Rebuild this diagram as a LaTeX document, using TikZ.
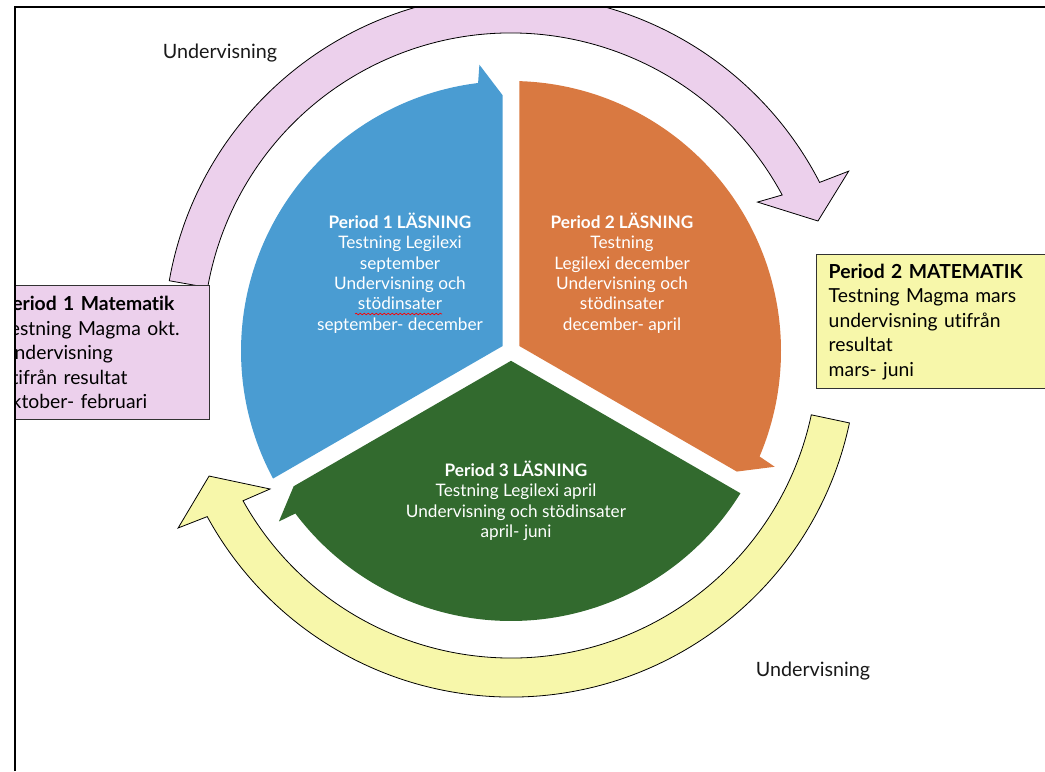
\documentclass[tikz,border=0pt]{standalone}
\usepackage{fontspec}
\setmainfont{Lato}[Ligatures=NoCommon]
\usetikzlibrary{decorations.pathmorphing}
\definecolor{segblue}{RGB}{74,156,210}
\definecolor{segorange}{RGB}{217,121,65}
\definecolor{seggreen}{RGB}{50,106,46}
\definecolor{arcpink}{RGB}{236,208,236}
\definecolor{arcyellow}{RGB}{247,247,170}
\definecolor{boxline}{RGB}{50,50,50}
\definecolor{labeltext}{RGB}{25,25,25}
\begin{document}
\begin{tikzpicture}[x=0.75pt,y=0.75pt,
  bandarrow/.style={draw=black, line width=0.6pt, line join=miter},
  segtext/.style={text=white, align=center, inner sep=0pt,
    font=\fontsize{12.9pt}{15.3pt}\selectfont},
  mathbox/.style={draw=boxline, line width=1.1pt, align=left, inner xsep=9pt,
    inner ysep=0pt, text=black, font=\fontsize{14.5pt}{18.4pt}\selectfont,
    minimum height=100.5pt, anchor=north west},
  cyclelabel/.style={text=labeltext, inner sep=0pt, font=\fontsize{14.8pt}{17pt}\selectfont}
]
\useasboundingbox (0,0) rectangle (1045,771);
\begin{scope}
\clip (15,0) rectangle (1045,764);
% pink cycle arrow (top)
\begin{scope}[shift={(511,430)}]
\path[bandarrow, fill=arcpink] (170:347) arc[start angle=170, end angle=27.2, radius=347]
  -- (26.7:378) -- (21.35:329.6) -- (29.4:283) -- (28.3:308)
  arc[start angle=28.3, end angle=170, radius=308] -- cycle;
\end{scope}
% yellow cycle arrow (bottom)
\begin{scope}[shift={(511,420)}]
\path[bandarrow, fill=arcyellow] (-12:307) -- (-12:346)
  arc[start angle=-12, end angle=-151.4, radius=346]
  -- (-152:377) -- (-157.5:326.8) -- (-150.2:277.7) -- (-150.8:307)
  arc[start angle=-150.8, end angle=-12, radius=307] -- cycle;
% segments
\fill[segblue] (150:9.8) -- (208.2:270) arc[start angle=208.2, end angle=97, radius=270]
  -- (96.3:288) -- (91.9:256) -- cycle;
\fill[segorange] (30:9.8) -- (88.2:270) arc[start angle=88.2, end angle=-23, radius=270]
  -- (-23.7:288) -- (-28.1:256) -- cycle;
\fill[seggreen] (270:9.8) -- (328.2:270) arc[start angle=328.2, end angle=217, radius=270]
  -- (216.3:288) -- (211.9:256) -- cycle;
\end{scope}
% segment texts
\node (p1) [segtext] at (400,498) {\textbf{Period 1 LÄSNING}\\Testning Legilexi\\september\\Undervisning och\\stödinsater\\september- december};
\node (p2) [segtext] at (622,498) {\textbf{Period 2 LÄSNING}\\Testning\\Legilexi december\\Undervisning och\\stödinsater\\december- april};
\node (p3) [segtext] at (516,270) {\textbf{Period 3 LÄSNING}\\Testning Legilexi april\\Undervisning och stödinsater\\april- juni};
\draw[red, line width=0.5pt, decorate, decoration={snake, amplitude=0.6pt, segment length=3pt}] (355,457) -- (442,457);
% labels
\node (u1) [cyclelabel] at (220,718) {Undervisning};
\node (u2) [cyclelabel] at (813,100) {Undervisning};
% boxes
\node (m1) [mathbox, fill=arcpink, text width=147.75pt] at (-12,486)
  {\textbf{Period 1 Matematik}\\Testning Magma okt.\\Undervisning\\utifrån resultat\\oktober- februari};
\node (m2) [mathbox, fill=arcyellow, text width=161.25pt] at (816,517)
  {\textbf{Period 2 MATEMATIK}\\Testning Magma mars\\undervisning utifrån\\resultat\\mars- juni};
\end{scope}
% frame
\draw[black, line width=1.1pt] (15,0) -- (15,764) -- (1045,764);
\end{tikzpicture}
\end{document}
